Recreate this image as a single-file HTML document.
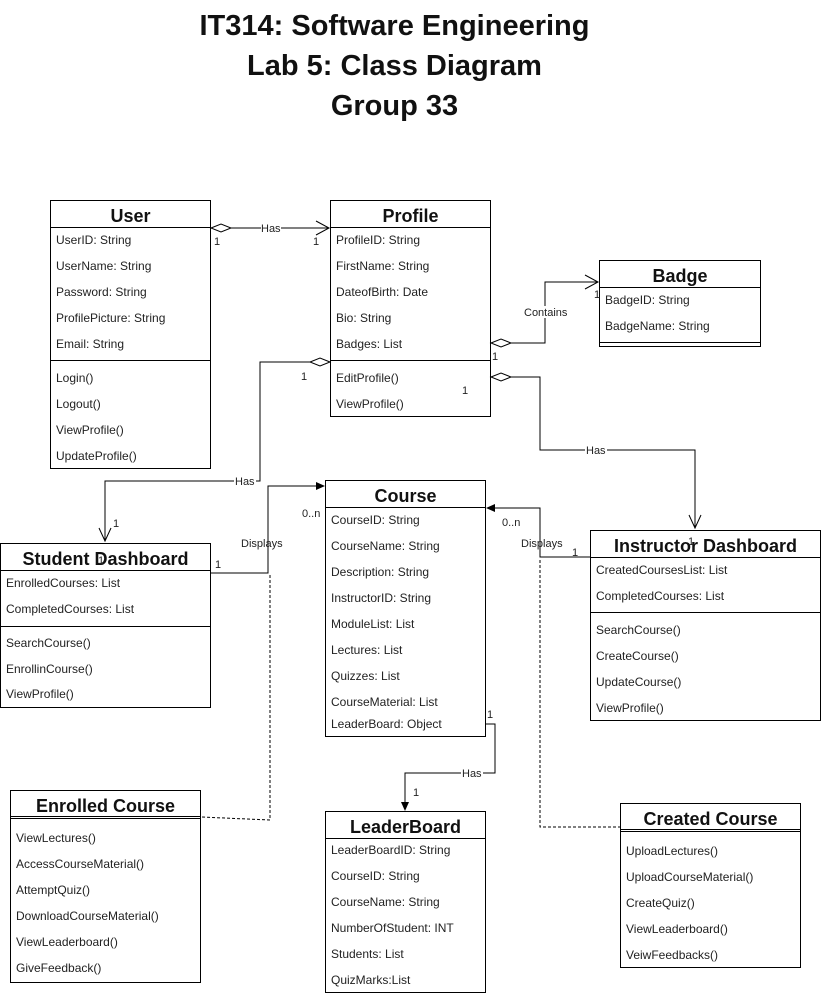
<!DOCTYPE html>
<html><head><meta charset="utf-8"><style>
body{margin:0;width:821px;height:996px;background:#fff;position:relative;overflow:hidden;font-family:"Liberation Sans",sans-serif;}
.t{position:absolute;left:0;width:789px;text-align:center;font-weight:bold;font-size:29px;color:#111;}
.b{position:absolute;border:1px solid #000;background:#fff;box-sizing:border-box;}
.h{position:absolute;left:0;right:0;top:0;height:26px;border-bottom:1px solid #000;text-align:center;font-weight:bold;font-size:18px;line-height:31px;color:#111;}
.r{position:absolute;left:5px;font-size:12px;color:#222;white-space:nowrap;line-height:14px;}
.d{position:absolute;left:0;right:0;border-top:1px solid #000;}
svg{position:absolute;left:0;top:0;}
.l{font-size:11px;fill:#222;font-family:"Liberation Sans",sans-serif;}
</style></head><body>
<div class="t" style="top:10px">IT314: Software Engineering</div>
<div class="t" style="top:50px">Lab 5: Class Diagram</div>
<div class="t" style="top:90px">Group 33</div>

<div class="b" style="left:50px;top:200px;width:161px;height:269px">
<div class="h">User</div>
<div class="r" style="top:32px">UserID: String</div>
<div class="r" style="top:58px">UserName: String</div>
<div class="r" style="top:84px">Password: String</div>
<div class="r" style="top:110px">ProfilePicture: String</div>
<div class="r" style="top:136px">Email: String</div>
<div class="d" style="top:159px"></div>
<div class="r" style="top:170px">Login()</div>
<div class="r" style="top:196px">Logout()</div>
<div class="r" style="top:222px">ViewProfile()</div>
<div class="r" style="top:248px">UpdateProfile()</div>
</div>

<div class="b" style="left:330px;top:200px;width:161px;height:217px">
<div class="h">Profile</div>
<div class="r" style="top:32px">ProfileID: String</div>
<div class="r" style="top:58px">FirstName: String</div>
<div class="r" style="top:84px">DateofBirth: Date</div>
<div class="r" style="top:110px">Bio: String</div>
<div class="r" style="top:136px">Badges: List</div>
<div class="d" style="top:159px"></div>
<div class="r" style="top:170px">EditProfile()</div>
<div class="r" style="top:196px">ViewProfile()</div>
</div>

<div class="b" style="left:599px;top:260px;width:162px;height:87px">
<div class="h">Badge</div>
<div class="r" style="top:32px">BadgeID: String</div>
<div class="r" style="top:58px">BadgeName: String</div>
<div class="d" style="top:81px"></div>
</div>

<div class="b" style="left:325px;top:480px;width:161px;height:257px">
<div class="h">Course</div>
<div class="r" style="top:32px">CourseID: String</div>
<div class="r" style="top:58px">CourseName: String</div>
<div class="r" style="top:84px">Description: String</div>
<div class="r" style="top:110px">InstructorID: String</div>
<div class="r" style="top:136px">ModuleList: List</div>
<div class="r" style="top:162px">Lectures: List</div>
<div class="r" style="top:188px">Quizzes: List</div>
<div class="r" style="top:214px">CourseMaterial: List</div>
<div class="r" style="top:236px">LeaderBoard: Object</div>
</div>

<div class="b" style="left:0px;top:543px;width:211px;height:165px">
<div class="h">Student Dashboard</div>
<div class="r" style="top:32px">EnrolledCourses: List</div>
<div class="r" style="top:58px">CompletedCourses: List</div>
<div class="d" style="top:82px"></div>
<div class="r" style="top:92px">SearchCourse()</div>
<div class="r" style="top:118px">EnrollinCourse()</div>
<div class="r" style="top:143px">ViewProfile()</div>
</div>

<div class="b" style="left:590px;top:530px;width:231px;height:191px">
<div class="h">Instructor Dashboard</div>
<div class="r" style="top:32px">CreatedCoursesList: List</div>
<div class="r" style="top:58px">CompletedCourses: List</div>
<div class="d" style="top:81px"></div>
<div class="r" style="top:92px">SearchCourse()</div>
<div class="r" style="top:118px">CreateCourse()</div>
<div class="r" style="top:144px">UpdateCourse()</div>
<div class="r" style="top:170px">ViewProfile()</div>
</div>

<div class="b" style="left:10px;top:790px;width:191px;height:193px">
<div class="h" style="border-bottom:3px double #000;height:25px">Enrolled Course</div>
<div class="r" style="top:40px">ViewLectures()</div>
<div class="r" style="top:66px">AccessCourseMaterial()</div>
<div class="r" style="top:92px">AttemptQuiz()</div>
<div class="r" style="top:118px">DownloadCourseMaterial()</div>
<div class="r" style="top:144px">ViewLeaderboard()</div>
<div class="r" style="top:170px">GiveFeedback()</div>
</div>

<div class="b" style="left:325px;top:811px;width:161px;height:182px">
<div class="h">LeaderBoard</div>
<div class="r" style="top:31px">LeaderBoardID: String</div>
<div class="r" style="top:57px">CourseID: String</div>
<div class="r" style="top:83px">CourseName: String</div>
<div class="r" style="top:109px">NumberOfStudent: INT</div>
<div class="r" style="top:135px">Students: List</div>
<div class="r" style="top:161px">QuizMarks:List</div>
</div>

<div class="b" style="left:620px;top:803px;width:181px;height:165px">
<div class="h" style="border-bottom:3px double #000;height:25px">Created Course</div>
<div class="r" style="top:40px">UploadLectures()</div>
<div class="r" style="top:66px">UploadCourseMaterial()</div>
<div class="r" style="top:92px">CreateQuiz()</div>
<div class="r" style="top:118px">ViewLeaderboard()</div>
<div class="r" style="top:144px">VeiwFeedbacks()</div>
</div>

<svg width="821" height="996" viewBox="0 0 821 996">
<g fill="none" stroke="#000" stroke-width="1">
<polygon points="211,228 221,224 231,228 221,232" fill="#fff"/>
<line x1="231" y1="228" x2="329" y2="228"/>
<polyline points="316,221 329,228 316,235"/>
<polygon points="330,362 320,358 310,362 320,366" fill="#fff"/>
<polyline points="310,362 260,362 260,481 105,481 105,541"/>
<polyline points="99,528 105,541 111,528"/>
<polygon points="491,343 501,339 511,343 501,347" fill="#fff"/>
<polyline points="511,343 545,343 545,282 598,282"/>
<polyline points="585,275 598,282 585,289"/>
<polygon points="491,377 501,373 511,377 501,381" fill="#fff"/>
<polyline points="511,377 540,377 540,450 695,450 695,528"/>
<polyline points="689,515 695,528 701,515"/>
<polyline points="211,573 268,573 268,486 318,486"/>
<polyline points="590,557 540,557 540,508 493,508"/>
<polyline points="486,724 495,724 495,773 405,773 405,803"/>
<polyline points="270,575 270,820 201,817" stroke-dasharray="3,2"/>
<polyline points="540,560 540,827 620,827" stroke-dasharray="3,2"/>
</g>
<g fill="#000">
<polygon points="325,486 316,482 316,490"/>
<polygon points="486,508 495,504 495,512"/>
<polygon points="405,811 401,802 409,802"/>
</g>
<g class="l">
<rect x="261" y="222" width="20" height="12" fill="#fff"/><text x="261" y="232">Has</text>
<text x="214" y="245">1</text><text x="313" y="245">1</text>
<rect x="234" y="475" width="22" height="12" fill="#fff"/><text x="235" y="485">Has</text>
<text x="301" y="380">1</text><text x="113" y="527">1</text><text x="98" y="564">1</text>
<rect x="523" y="306" width="44" height="12" fill="#fff"/><text x="524" y="316">Contains</text>
<text x="492" y="360">1</text><text x="594" y="298">1</text>
<rect x="585" y="444" width="22" height="12" fill="#fff"/><text x="586" y="454">Has</text>
<text x="462" y="394">1</text><text x="688" y="545">1</text>
<text x="241" y="547">Displays</text><text x="215" y="568">1</text><text x="302" y="517">0..n</text>
<text x="521" y="547">Displays</text><text x="572" y="556">1</text><text x="502" y="526">0..n</text>
<rect x="461" y="767" width="22" height="12" fill="#fff"/><text x="462" y="777">Has</text>
<text x="487" y="718">1</text><text x="413" y="796">1</text>
</g>
</svg>
</body></html>
